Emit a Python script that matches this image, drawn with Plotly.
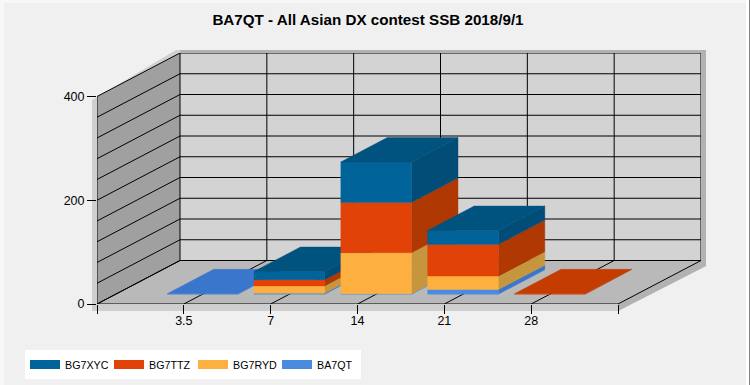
import plotly.graph_objects as go

categories = ["3.5", "7", "14", "21", "28"]
BG7XYC = [0, 16, 78, 27, 0]
BG7TTZ = [0, 12, 97, 61, 1]
BG7RYD = [0, 14, 79, 26, 0]
BA7QT = [1, 2, 1, 9, 0]
y_ticks = [0, 200, 400]

series = [  # bottom to top
    ("BA7QT", BA7QT, "#4A8BE0", "#3A76CC", "#3A76CC"),
    ("BG7RYD", BG7RYD, "#FDB03F", "#C6963F", "#C6963F"),
    ("BG7TTZ", BG7TTZ, "#E04208", "#B03803", "#C43C00"),
    ("BG7XYC", BG7XYC, "#00639A", "#014D77", "#00527F"),
]

# Pixel layout of the pseudo-3D box
L, R, T, B = 97, 701, 53, 304
FRONT_R = 618
V400 = 96.5
px_x = (FRONT_R - L) / 6          # px per category step
px_y = (B - V400) / 400           # px per value unit
DX = (R - FRONT_R) / px_x         # depth in x axis units
DY = (B - 260.5) / px_y           # depth in y axis units
X_MAX = (R - L) / px_x
Y_MAX = (B - T) / px_y
D0, D1 = 0.225, 0.785
HALF = 0.407


def P(x, v, d=0.0):
    return x + d * DX, v + d * DY


def poly(pts):
    xs = [p[0] for p in pts] + [pts[0][0]]
    ys = [p[1] for p in pts] + [pts[0][1]]
    return xs, ys


def path(pts):
    return "M " + " L ".join(f"{x:.4f},{y:.4f}" for x, y in pts) + " Z"


def paper(px, py):
    return (px - L) / (R - L), (B - py) / (B - T)


def ppath(pts):
    return path([paper(*p) for p in pts])


fig = go.Figure()
shapes = []

# page edges, shadows
for pts, col in [
    ([(0, 0), (750, 0), (750, 3), (0, 3)], "#F7F7F7"),
    ([(0, 0), (4, 0), (4, 385), (0, 385)], "#F7F7F7"),
    ([(746, 0), (749, 0), (749, 385), (746, 385)], "#FFFFFF"),
    ([(749, 0), (750, 0), (750, 385), (749, 385)], "#808080"),
    ([(92, 100), (176, 50), (706, 50), (706, 266), (618, 311), (92, 311)], "#CFCFCF"),
    ([(180, 50), (706, 50), (706, 266), (618, 311), (618, 304), (701, 260), (701, 53), (180, 53)], "#B2B2B2"),
]:
    shapes.append(dict(type="path", xref="paper", yref="paper", path=ppath(pts),
                       fillcolor=col, line_width=0, layer="below"))

# walls and floor
for pts, col in [
    ([P(0, 0), P(0, 400), P(0, 400, 1), P(0, 0, 1)], "#A0A0A0"),
    ([P(0, 0, 1), P(0, 400, 1), P(6, 400, 1), P(6, 0, 1)], "#D3D3D3"),
    ([P(0, 0), P(0, 0, 1), P(6, 0, 1), P(6, 0)], "#B9B9B9"),
]:
    shapes.append(dict(type="path", xref="x", yref="y", path=path(pts),
                       fillcolor=col, line_width=0, layer="below"))

# grid
gx, gy = [], []


def seg(a, b):
    gx.extend([a[0], b[0], None])
    gy.extend([a[1], b[1], None])


for v in range(0, 401, 40):
    seg(P(0, v), P(0, v, 1))
    seg(P(0, v, 1), P(6, v, 1))
for k in range(0, 7):
    seg(P(k, 0), P(k, 0, 1))
    seg(P(k, 0, 1), P(k, 400, 1))
seg(P(0, 0), P(6, 0))
seg(P(0, 0), P(0, 400))
fig.add_trace(go.Scatter(x=gx, y=gy, mode="lines", line=dict(color="#000000", width=1),
                         showlegend=False, hoverinfo="skip", cliponaxis=False))


def face(pts, color):
    xs, ys = poly(pts)
    fig.add_trace(go.Scatter(
        x=xs, y=ys, mode="lines", fill="toself", fillcolor=color,
        line=dict(color=color, width=0.4), showlegend=False, hoverinfo="skip"))


for i, cat in enumerate(categories):
    xc = i + 1
    base = 0.0
    top = None
    a, b = xc - HALF, xc + HALF
    for name, vals, front, side, topc in series:
        v = vals[i]
        if v <= 0:
            continue
        lo, hi = base, base + v
        face([P(b, lo, D0), P(b, lo, D1), P(b, hi, D1), P(b, hi, D0)], side)
        face([P(a, lo, D0), P(b, lo, D0), P(b, hi, D0), P(a, hi, D0)], front)
        base = hi
        top = topc
    if top:
        face([P(a, base, D0), P(b, base, D0), P(b, base, D1), P(a, base, D1)], top)

# legend entries, top series first
for name, vals, front, side, topc in reversed(series):
    fig.add_trace(go.Scatter(x=[None], y=[None], mode="lines", name=name,
                             line=dict(color=front, width=9), hoverinfo="skip"))

fig.update_layout(
    width=750, height=385,
    autosize=False,
    margin=dict(l=L, r=750 - R, t=T, b=385 - B, pad=0),
    paper_bgcolor="#F0F0F0",
    plot_bgcolor="rgba(0,0,0,0)",
    font=dict(family="Liberation Sans, Arial, sans-serif", size=12, color="#000000"),
    title=dict(text="<b>BA7QT - All Asian DX contest SSB 2018/9/1</b>",
               x=368 / 750, xanchor="center", y=1 - 20 / 385, yanchor="middle",
               font=dict(size=15.2, color="#000000")),
    xaxis=dict(range=[0, X_MAX], tickmode="array", tickvals=list(range(7)),
               ticktext=[""] + categories + [""], ticks="outside", ticklen=9, tickcolor="#000000",
               tickwidth=1, showgrid=False, showline=False, zeroline=False, tickfont=dict(size=12.5),
               ticklabelstandoff=-4),
    yaxis=dict(range=[0, Y_MAX], tickmode="array", tickvals=y_ticks, ticks="outside",
               ticklen=9, tickcolor="#000000", tickwidth=1, showgrid=False, showline=False,
               zeroline=False, tickfont=dict(size=12.5)),
    shapes=shapes,
    showlegend=True,
    legend=dict(orientation="h", xref="container", yref="container", x=25 / 750, xanchor="left",
                y=1 - 350 / 385, yanchor="top", bgcolor="#FFFFFF",
                font=dict(size=10.7, color="#000000"), itemwidth=30, traceorder="normal",
                entrywidth=39, entrywidthmode="pixels"),
)

fig.write_html("out.html", config=dict(displayModeBar=False),
               post_script="document.body.style.margin='0';document.body.style.overflow='hidden';")
